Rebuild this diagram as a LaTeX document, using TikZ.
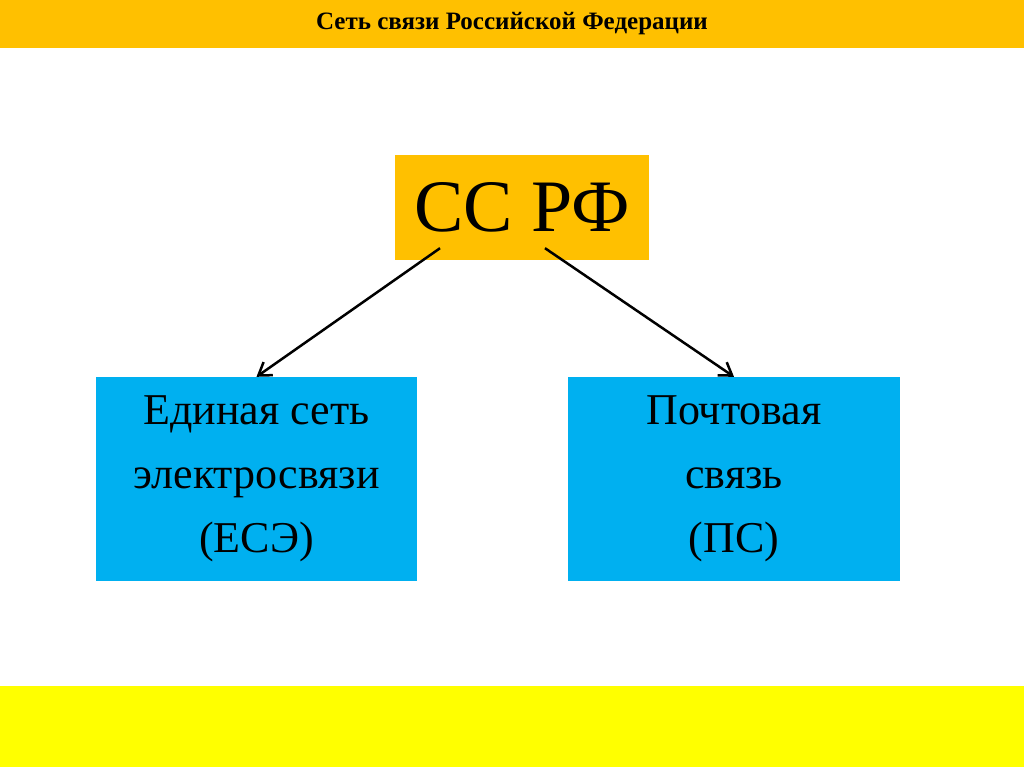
\documentclass[tikz,border=0pt]{standalone}
\usepackage{fontspec}
\setmainfont{Liberation Serif}
\usetikzlibrary{calc,arrows.meta}
\definecolor{orng}{HTML}{FFC000}
\definecolor{ylw}{HTML}{FFFF00}
\definecolor{sky}{HTML}{00B0F0}
\begin{document}
\begin{tikzpicture}[x=1pt,y=-1pt,
  bluebox/.style={fill=sky,draw=none,minimum width=321pt,minimum height=204pt,align=center,font=\fontsize{44}{64}\selectfont},
  arr/.style={-{Straight Barb[length=12pt,width=16pt]},line width=2.5pt}]
\useasboundingbox (0,0) rectangle (1024,767);
\fill[orng] (0,0) rectangle (1024,48);
\fill[ylw] (0,686) rectangle (1024,767);
\node (title) at (512,24) {\fontsize{25}{30}\selectfont\bfseries Сеть связи Российской Федерации};
\node[fill=orng,minimum width=254pt,minimum height=105pt,font=\fontsize{74}{80}\selectfont] (top) at (522,207.5) {СС РФ};
\node[bluebox] (left) at (256.5,479) {Единая сеть\\электросвязи\\(ЕСЭ)};
\node[bluebox,minimum width=332pt] (right) at (734,479) {Почтовая\\связь\\(ПС)};
\draw[arr] ($(top.south)+(-82,-12)$) -- (left.north);
\draw[arr] ($(top.south)+(23,-12)$) -- (right.north);
\end{tikzpicture}
\end{document}
